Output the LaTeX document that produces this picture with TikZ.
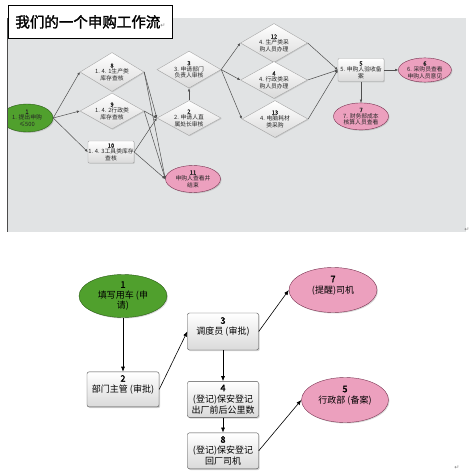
\documentclass[tikz,border=0pt]{standalone}
\usepackage{fontspec}
\setmainfont{Noto Sans CJK SC}[AutoFakeBold=2]
\newfontfamily\symfont{DejaVu Sans}
\usetikzlibrary{arrows.meta, positioning, shapes.geometric, shadows}

\definecolor{panelgray}{RGB}{225,227,228}
\definecolor{leafgreen}{RGB}{80,160,45}
\definecolor{darkgreen}{RGB}{40,90,20}
\definecolor{rosepink}{RGB}{236,160,190}
\definecolor{darkrose}{RGB}{120,50,80}
\definecolor{boxgray}{RGB}{218,218,218}
\definecolor{linegray}{RGB}{80,80,80}

\begin{document}
\begin{tikzpicture}[
  x=1pt, y=-1pt,
  tinytext/.style={font=\fontsize{5.8}{6.2}\selectfont, align=center, text=black!85},
  dia/.style={tinytext, diamond, draw=gray!70, top color=white, bottom color=boxgray, inner sep=-2pt, shape aspect=1.73, minimum width=64pt, minimum height=37pt, drop shadow={shadow xshift=0.8pt, shadow yshift=-0.8pt, opacity=0.25}},
  rbox/.style={tinytext, rectangle, rounded corners=1pt, draw=gray!70, top color=white, bottom color=boxgray, inner sep=0pt, minimum width=46pt, minimum height=22pt, drop shadow={shadow xshift=0.8pt, shadow yshift=-0.8pt, opacity=0.25}},
  greenell/.style={ellipse, draw=darkgreen, fill=leafgreen, inner sep=0pt, drop shadow={shadow xshift=1pt, shadow yshift=-1pt, opacity=0.3}},
  pinkell/.style={ellipse, draw=darkrose, fill=rosepink, inner sep=0pt, drop shadow={shadow xshift=1pt, shadow yshift=-1pt, opacity=0.3}},
  edge/.style={-{Latex[length=3pt,width=2.6pt]}, draw=linegray, line width=0.5pt},
  flowtext/.style={font=\fontsize{9}{11}\selectfont, align=center},
  stepbox/.style={flowtext, rectangle, rounded corners=2pt, draw=black!70, top color=white, bottom color=boxgray, minimum width=71pt, minimum height=36pt, inner sep=0pt, drop shadow={shadow xshift=1.2pt, shadow yshift=-1.2pt, opacity=0.35}},
  flow/.style={-{Latex[length=5pt,width=4pt]}, line width=0.6pt},
  retmark/.style={font=\symfont\fontsize{6}{6}\selectfont, text=gray, inner sep=0pt}
]
\useasboundingbox (0,0) rectangle (469,473);

% upper picture: screenshot of the purchase workflow
\fill[panelgray] (7,18) rectangle (466,232);
\begin{scope}
\clip (7,18) rectangle (466,232);
\node[greenell, tinytext, minimum width=52pt, minimum height=28pt] (n1) at (27,118) {\textbf{1}\\1. 提出申购\\≤500};
\node[dia, minimum height=39pt] (n8) at (112,72) {\textbf{8}\\1. 4. 1生产类\\库存查核};
\node[dia, minimum height=36pt] (n9) at (112,111) {\textbf{9}\\1. 4. 2行政类\\库存查核};
\node[rbox] (n10) at (111,152) {\textbf{10}\\1. 4. 3工具类库存\\查核};
\node[pinkell, tinytext, minimum width=55pt, minimum height=27pt] (n11) at (193,179) {\textbf{11}\\申购人查看并\\结束};
\node[dia, minimum height=35pt] (n2) at (189,118) {\textbf{2}\\2. 申请人直\\属处长审核};
\node[dia, above=12pt of n2] (n3) {\textbf{3}\\3. 申请部门\\负责人审核};
\node[dia, minimum width=67pt, minimum height=39pt] (n12) at (274,43) {\textbf{12}\\4. 生产类采\\购人员办理};
\node[dia, minimum width=67pt] (n4) at (274,80) {\textbf{4}\\4. 行政类采\\购人员办理};
\node[dia, minimum width=66pt] (n13) at (275,119) {\textbf{13}\\4. 电脑耗材\\类采购};
\node[rbox, minimum height=23pt] (n5) at (361,70) {\textbf{5}\\5. 申购人验收备\\案};
\node[pinkell, tinytext, minimum width=53pt, minimum height=24pt, right=14pt of n5] (n6) {\textbf{6}\\6. 采购员查看\\申购人员意见};
\node[pinkell, tinytext, minimum width=55pt, minimum height=27pt, below=21pt of n5] (n7) {\textbf{7}\\7. 财务部成本\\核算人员查看};

\foreach \t in {n8,n9,n10}
  \draw[edge] (n1.east) -- (\t.west);
\foreach \s in {n8,n9,n10} {
  \draw[edge] (\s.east) -- (n2.west);
  \draw[edge] (\s.east) -- (n11.west);
}
\draw[edge] (n2) -- (n3);
\foreach \t in {n12,n4,n13} {
  \draw[edge] (n3.east) -- (\t.west);
  \draw[edge] (\t.east) -- (n5.west);
}
\draw[edge] (n5) -- (n6);
\draw[edge] (n5) -- (n7);
\end{scope}
\draw[gray!60!black, line width=0.8pt] (7,18) -- (7,232);
\node[draw=black, fill=white, line width=0.8pt, minimum width=164pt, minimum height=33pt, inner sep=0pt, anchor=north west] (title) at (8,5) {\fontsize{14.5}{16}\selectfont\bfseries 我们的一个申购工作流{\symfont\mdseries\fontsize{6}{6}\selectfont\color{gray}↵}};
\node[retmark] (ret1) at (467,230) {↵};

% lower picture: car request
\node[greenell, flowtext, font=\fontsize{9}{10.5}\selectfont, minimum width=88pt, minimum height=43pt] (b1) at (123,296) {\textbf{1}\\填写用车 (申\\请)};
\node[stepbox, minimum width=72pt, minimum height=35pt, below=54pt of b1] (b2) {\textbf{2}\\部门主管 (审批)\\};
\node[stepbox, minimum height=37pt] (b3) at (223,331.5) {\textbf{3}\\调度员 (审批)\\};
\node[stepbox, below=31pt of b3] (b4) {\textbf{4}\\(登记)保安登记\\出厂前后公里数};
\node[stepbox, below=15pt of b4] (b8) {\textbf{8}\\(登记)保安登记\\回厂司机};
\node[pinkell, flowtext, minimum width=88pt, minimum height=45pt] (b7) at (333,290) {\textbf{7}\\(提醒)司机\\};
\node[pinkell, flowtext, minimum width=87pt, minimum height=45pt] (b5) at (345,400) {\textbf{5}\\行政部 (备案)\\};
\node[retmark] (ret2) at (457,468) {↵};

\draw[flow] (b1) -- (b2);
\draw[flow] (b2.east) -- (b3.west);
\draw[flow] (b3) -- (b4);
\draw[flow] (b4) -- (b8);
\draw[flow] (b3.east) -- (b7.west);
\draw[flow] (b8.east) -- (b5.west);
\end{tikzpicture}
\end{document}
